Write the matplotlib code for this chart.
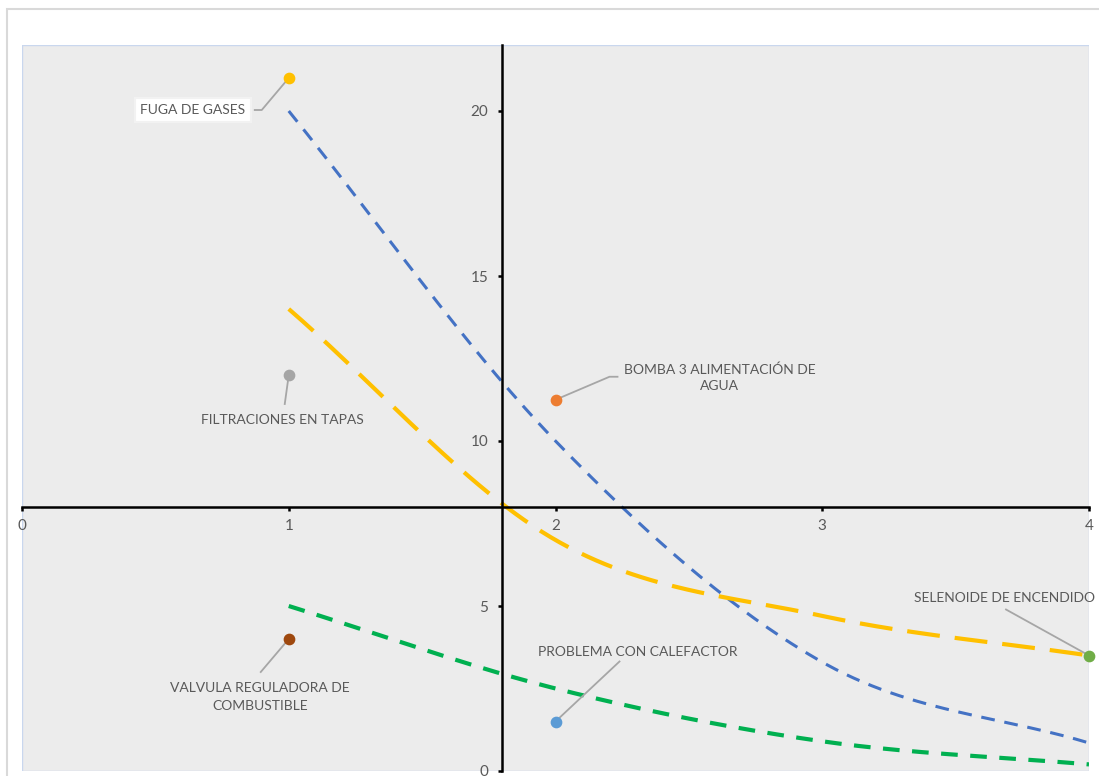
import matplotlib.pyplot as plt
import numpy as np
from matplotlib.patches import Rectangle

plt.rcParams['font.family'] = ['Lato', 'DejaVu Sans']

# Puntos de falla (x = probabilidad, y = impacto)
fallas = ["FUGA DE GASES", "FILTRACIONES EN TAPAS", "BOMBA 3 ALIMENTACIÓN DE\nAGUA",
          "VALVULA REGULADORA DE\nCOMBUSTIBLE", "PROBLEMA CON CALEFACTOR",
          "SELENOIDE DE ENCENDIDO"]
falla_x = [1, 1, 2, 1, 2, 4]
falla_y = [21, 12, 11.25, 4, 1.5, 3.5]
falla_color = ["#FFC000", "#A5A5A5", "#ED7D31", "#9E480E", "#5B9BD5", "#70AD47"]

# Curvas de referencia
curva_x = [1, 2, 3, 4]
curva_azul = [20, 10, 3.3, 0.85]
curva_oro = [14, 7, 4.7, 3.5]
curva_verde = [5, 2.5, 0.9, 0.2]

# Posicion de etiquetas (offset en pixeles desde el punto) y lineas guia
etiqueta_off = [(-96, -32), (-6, -45), (164, 22), (-29, -58), (82, 69), (-85, 58)]
guia_off = [[(0, 0), (-27, -32), (-34, -32)],
            [(0, 0), (-4, -29)],
            [(0, 0), (54, 23), (62, 23)],
            [(0, 0), (-28, -33)],
            [(0, 0), (64, 60)],
            [(0, 0), (-83, 46)]]


def suavizar(x, y, n=60):
    # spline tipo Catmull-Rom, parecido al "suavizado" de Excel
    x = np.asarray(x, float)
    y = np.asarray(y, float)
    px = np.concatenate([[2 * x[0] - x[1]], x, [2 * x[-1] - x[-2]]])
    py = np.concatenate([[2 * y[0] - y[1]], y, [2 * y[-1] - y[-2]]])
    xs, ys = [], []
    t = np.linspace(0, 1, n)
    for i in range(1, len(px) - 2):
        for p, out in ((px, xs), (py, ys)):
            p0, p1, p2, p3 = p[i - 1], p[i], p[i + 1], p[i + 2]
            m1 = (p2 - p0) / 2
            m2 = (p3 - p1) / 2
            h00 = 2 * t**3 - 3 * t**2 + 1
            h10 = t**3 - 2 * t**2 + t
            h01 = -2 * t**3 + 3 * t**2
            h11 = t**3 - t**2
            out.extend(h00 * p1 + h10 * m1 + h01 * p2 + h11 * m2)
    return np.array(xs), np.array(ys)


fig = plt.figure(figsize=(10.99, 7.76), dpi=100)
fig.patches.append(Rectangle((7 / 1099, -0.5), 2, 1.5 - 9 / 776, transform=fig.transFigure,
                             facecolor='none', edgecolor='#D9D9D9', lw=1.5))
ax = fig.add_axes([22 / 1099, 5 / 776, 1067 / 1099, 726 / 776])
ax.set_facecolor('#ECECEC')
ax.set_xlim(0, 4)
ax.set_ylim(0, 22)

for s in ['top', 'right']:
    ax.spines[s].set_visible(False)
ax.spines['left'].set_position(('data', 1.8))
ax.spines['bottom'].set_position(('data', 8))
for s in ['left', 'bottom']:
    ax.spines[s].set_color('black')
    ax.spines[s].set_linewidth(1.8)
ax.add_patch(Rectangle((0, 0), 1, 1, transform=ax.transAxes, facecolor='none',
                       edgecolor='#C9D7EE', lw=1, zorder=0.5))

ax.set_xticks([0, 1, 2, 3, 4])
ax.set_yticks([0, 5, 10, 15, 20])
ax.tick_params(axis='both', direction='out', length=3, width=1.8, color='black',
               labelcolor='#595959', labelsize=11)
ax.tick_params(axis='x', pad=6)
ax.tick_params(axis='y', pad=7)

# curvas
xs, ys = suavizar(curva_x, curva_azul)
ax.plot(xs, ys, color='#4472C4', lw=2.2, dashes=(4.5, 3.2), zorder=2)
xs, ys = suavizar(curva_x, curva_oro)
ax.plot(xs, ys, color='#FFC000', lw=3, dashes=(7.9, 3.6), zorder=2)
xs, ys = suavizar(curva_x, curva_verde)
ax.plot(xs, ys, color='#00B050', lw=3, dashes=(4, 3), zorder=2)

fig.canvas.draw()
inv = ax.transData.inverted()

for i, nombre in enumerate(fallas):
    x, y = falla_x[i], falla_y[i]
    bx, by = ax.transData.transform((x, y))
    pts = [inv.transform((bx + dx, by + dy)) for dx, dy in guia_off[i]]
    pts = np.array(pts)
    ax.plot(pts[:, 0], pts[:, 1], color='#A6A6A6', lw=1.3, zorder=3, clip_on=False)
    ax.scatter([x], [y], s=55, color=falla_color[i], zorder=4, clip_on=False)
    tx, ty = inv.transform((bx + etiqueta_off[i][0], by + etiqueta_off[i][1]))
    caja = None
    if i == 0:
        caja = dict(boxstyle='square,pad=0.4', facecolor='white', edgecolor='#F2F2F2', lw=1.5)
    ax.text(tx, ty, nombre, ha='center', va='center', fontsize=10, color='#595959',
            linespacing=1.5, bbox=caja, zorder=5)

fig.savefig('out.png', dpi=100)
